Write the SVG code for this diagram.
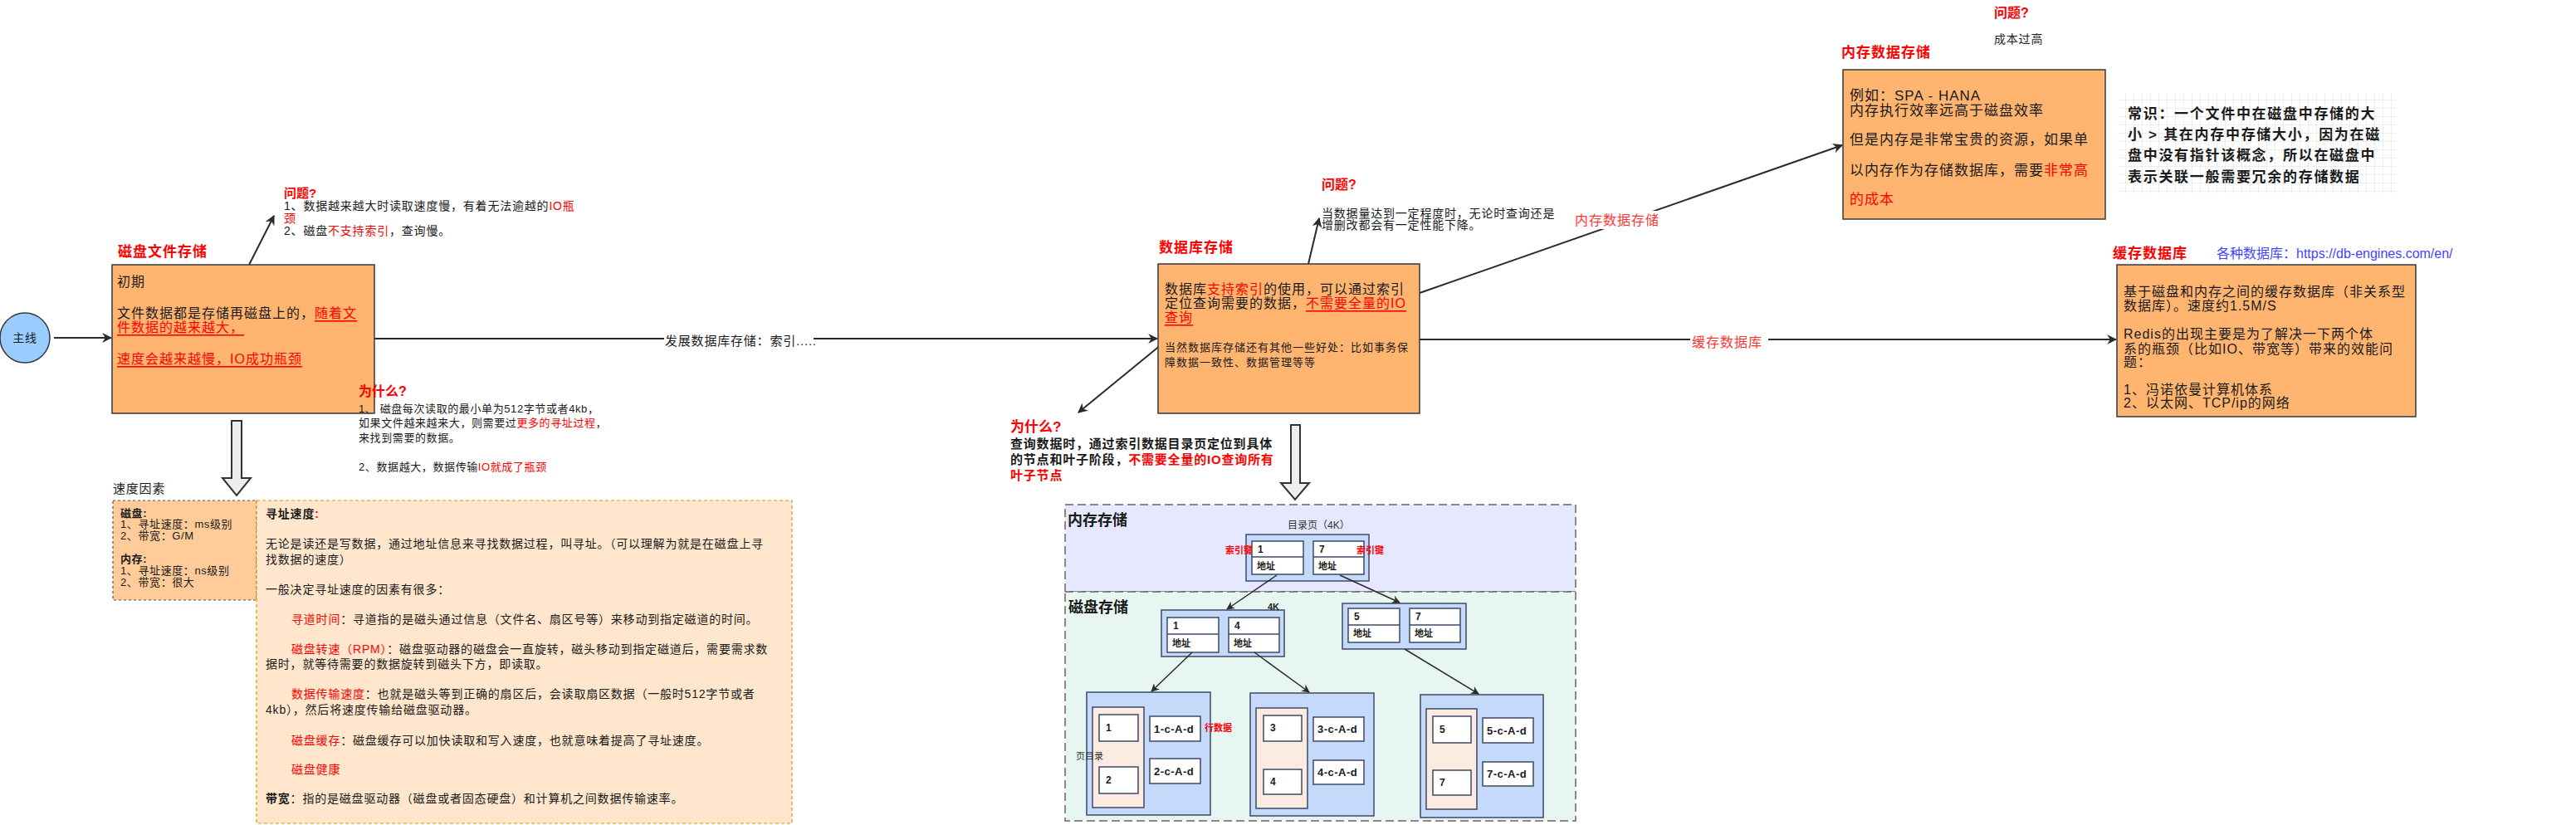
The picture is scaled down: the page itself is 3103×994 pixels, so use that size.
<svg xmlns="http://www.w3.org/2000/svg" width="3103" height="994" viewBox="0 0 3103 994">
<style>
text{font-family:"Liberation Sans","Noto Sans CJK SC",sans-serif;dominant-baseline:central;fill:#1a1a1a}
.s12{font-size:12px}
.s13{font-size:13px;letter-spacing:.6px}
.s14{font-size:14px;letter-spacing:.8px}
.s15{font-size:15px;letter-spacing:.8px}
.s16{font-size:16px;letter-spacing:1px}
.s17{font-size:17px;letter-spacing:1px}
.ttl{font-size:17px;letter-spacing:1px;font-weight:bold;fill:#ff0000}
.q{font-size:16px;font-weight:bold;fill:#ff0000}
.b{font-weight:bold}
.r{fill:#ff0000}
.lr{fill:#ff3333}
.u{text-decoration:underline}
.box{fill:#FFB570;stroke:#36393d;stroke-width:1.5}
.ln{stroke:#2b2b2b;stroke-width:2;fill:none}
.ln1{stroke:#2b2b2b;stroke-width:1.5;fill:none}
.hol{fill:#eeeeee;stroke:#333;stroke-width:2;stroke-linejoin:miter}
.blk{fill:#C5DAFB;stroke:#3d4a66;stroke-width:1.5}
.wb{fill:#ffffff;stroke:#3d4a66;stroke-width:1.5}
.pk{fill:#FCEBE0;stroke:#3d4a66;stroke-width:1.5}
.tk{font-size:12px;font-weight:bold}
.tk2{font-size:11px;font-weight:bold}
.tk3{font-size:13px;font-weight:bold;letter-spacing:.5px}
</style>
<defs>
<marker id="ah" viewBox="0 0 10 10" refX="9" refY="5" markerWidth="12" markerHeight="12" markerUnits="userSpaceOnUse" orient="auto">
<path d="M0,0 L10,5 L0,10 L3,5 z" fill="#2b2b2b"/>
</marker>
<marker id="ahs" viewBox="0 0 10 10" refX="9" refY="5" markerWidth="10" markerHeight="10" markerUnits="userSpaceOnUse" orient="auto">
<path d="M0,0 L10,5 L0,10 L3,5 z" fill="#2b2b2b"/>
</marker>
<pattern id="grid" width="10" height="10" patternUnits="userSpaceOnUse">
<rect width="10" height="10" fill="#ffffff"/>
<path d="M10,0 L0,0 L0,10" fill="none" stroke="#dddddd" stroke-width="1"/>
</pattern>
</defs>

<g id="connectors">
<line class="ln" x1="65" y1="407" x2="134" y2="407" marker-end="url(#ah)"/>
<line class="ln" x1="451" y1="408" x2="1394" y2="408" marker-end="url(#ah)"/>
<line class="ln" x1="1710" y1="409" x2="2549" y2="409" marker-end="url(#ah)"/>
<line class="ln" x1="1710" y1="353" x2="2219" y2="175" marker-end="url(#ah)"/>
<line class="ln" x1="300" y1="319" x2="330" y2="260" marker-end="url(#ah)"/>
<line class="ln" x1="375" y1="453" x2="416" y2="477" marker-end="url(#ah)"/>
<line class="ln" x1="1576" y1="318" x2="1589" y2="263" marker-end="url(#ah)"/>
<line class="ln" x1="1426" y1="393" x2="1299" y2="497" marker-end="url(#ah)"/>
<path class="hol" d="M279,507 L291,507 L291,576 L302,576 L285,597 L268,576 L279,576 Z"/>
<path class="hol" d="M1555,512 L1566,512 L1566,582 L1577,582 L1560,602 L1543,582 L1555,582 Z"/>
<rect x="800" y="399" width="180" height="22" fill="#ffffff"/>
<text class="s15" x="801" y="410">发展数据库存储：索引.....</text>
<rect x="2036" y="401" width="94" height="22" fill="#ffffff"/>
<text class="s16 lr" x="2038" y="412">缓存数据库</text>
<rect x="1895" y="254" width="112" height="22" fill="#ffffff"/>
<text class="s16 lr" x="1897" y="265">内存数据存储</text>
</g>

<g id="node-main">
<circle cx="30" cy="407" r="30" fill="#99CCFF" stroke="#36393d" stroke-width="1.5"/>
<text class="s14" x="30" y="407" text-anchor="middle">主线</text>
</g>

<g id="node-disk-file">
<text class="ttl" x="142" y="303">磁盘文件存储</text>
<rect class="box" x="135" y="319" width="316" height="179"/>
<text class="s16" x="141" y="339">初期</text>
<text class="s16" x="141" y="377">文件数据都是存储再磁盘上的，<tspan class="r u">随着文</tspan></text>
<text class="s16" x="141" y="394"><tspan class="r u">件数据的越来越大，</tspan></text>
<text class="s16" x="141" y="432"><tspan class="r u">速度会越来越慢，IO成功瓶颈</tspan></text>
</g>

<g id="node-problem1">
<text class="q" x="342" y="232" style="font-size:15px">问题?</text>
<text class="s14" x="342" y="248">1、数据越来越大时读取速度慢，有着无法逾越的<tspan class="r">IO瓶</tspan></text>
<text class="s14" x="342" y="263"><tspan class="r">颈</tspan></text>
<text class="s14" x="342" y="278">2、磁盘<tspan class="r">不支持索引</tspan>，查询慢。</text>
</g>

<g id="node-why1">
<text class="q" x="432" y="471">为什么?</text>
<text class="s13" x="432" y="492">1、 磁盘每次读取的最小单为512字节或者4kb，</text>
<text class="s13" x="432" y="509">如果文件越来越来大，则需要过<tspan class="r">更多的寻址过程</tspan>，</text>
<text class="s13" x="432" y="527">来找到需要的数据。</text>
<text class="s13" x="432" y="562">2、数据越大，数据传输<tspan class="r">IO就成了瓶颈</tspan></text>
</g>

<g id="node-speed">
<text class="s15" x="136" y="588">速度因素</text>
<rect x="136" y="603" width="173" height="120" fill="#FFCC99" stroke="#555" stroke-width="1.2" stroke-dasharray="3 3"/>
<text class="s13 b" x="145" y="618">磁盘:</text>
<text class="s13" x="145" y="631">1、寻址速度：ms级别</text>
<text class="s13" x="145" y="645">2、带宽：G/M</text>
<text class="s13 b" x="145" y="673">内存:</text>
<text class="s13" x="145" y="687">1、寻址速度：ns级别</text>
<text class="s13" x="145" y="701">2、带宽：很大</text>
</g>

<g id="node-seek">
<rect x="309" y="603" width="645" height="389" fill="#FFE6CC" stroke="#D79B00" stroke-width="1.2" stroke-dasharray="4 3"/>
<text class="s14 b" x="320" y="619">寻址速度<tspan class="r">:</tspan></text>
<text class="s14" x="320" y="655">无论是读还是写数据，通过地址信息来寻找数据过程，叫寻址。（可以理解为就是在磁盘上寻</text>
<text class="s14" x="320" y="674">找数据的速度）</text>
<text class="s14" x="320" y="710">一般决定寻址速度的因素有很多：</text>
<text class="s14" x="351" y="746"><tspan class="r">寻道时间</tspan>：寻道指的是磁头通过信息（文件名、扇区号等）来移动到指定磁道的时间。</text>
<text class="s14" x="351" y="782"><tspan class="r">磁盘转速（RPM）</tspan>：磁盘驱动器的磁盘会一直旋转，磁头移动到指定磁道后，需要需求数</text>
<text class="s14" x="320" y="800">据时，就等待需要的数据旋转到磁头下方，即读取。</text>
<text class="s14" x="351" y="836"><tspan class="r">数据传输速度</tspan>：也就是磁头等到正确的扇区后，会读取扇区数据（一般时512字节或者</text>
<text class="s14" x="320" y="855">4kb），然后将速度传输给磁盘驱动器。</text>
<text class="s14" x="351" y="892"><tspan class="r">磁盘缓存</tspan>：磁盘缓存可以加快读取和写入速度，也就意味着提高了寻址速度。</text>
<text class="s14 r" x="351" y="927">磁盘健康</text>
<text class="s14" x="320" y="962"><tspan class="b">带宽</tspan>：指的是磁盘驱动器（磁盘或者固态硬盘）和计算机之间数据传输速率。</text>
</g>

<g id="node-db">
<text class="ttl" x="1396" y="298">数据库存储</text>
<rect class="box" x="1395" y="318" width="315" height="180"/>
<text class="s16" x="1403" y="348">数据库<tspan class="r">支持索引</tspan>的使用，可以通过索引</text>
<text class="s16" x="1403" y="365">定位查询需要的数据，<tspan class="r u">不需要全量的IO</tspan></text>
<text class="s16" x="1403" y="382"><tspan class="r u">查询</tspan></text>
<text class="s13" x="1403" y="418" style="letter-spacing:1px">当然数据库存储还有其他一些好处：比如事务保</text>
<text class="s13" x="1403" y="436" style="letter-spacing:1px">障数据一致性、数据管理等等</text>
</g>

<g id="node-problem2">
<text class="q" x="1592" y="222">问题?</text>
<text class="s14" x="1592" y="257">当数据量达到一定程度时，无论时查询还是</text>
<text class="s14" x="1592" y="271">增删改都会有一定性能下降。</text>
</g>

<g id="node-why2">
<text class="q" x="1217" y="514" style="font-size:17px">为什么?</text>
<text class="s15 b" x="1217" y="534">查询数据时，通过索引数据目录页定位到具体</text>
<text class="s15 b" x="1217" y="553">的节点和叶子阶段，<tspan class="r">不需要全量的IO查询所有</tspan></text>
<text class="s15 b r" x="1217" y="572">叶子节点</text>
</g>

<g id="node-memory-db">
<text class="ttl" x="2218" y="63">内存数据存储</text>
<rect class="box" x="2220" y="84" width="316" height="180"/>
<text class="s17" x="2228" y="115">例如：SPA - HANA</text>
<text class="s17" x="2228" y="133">内存执行效率远高于磁盘效率</text>
<text class="s17" x="2228" y="168">但是内存是非常宝贵的资源，如果单</text>
<text class="s17" x="2228" y="205">以内存作为存储数据库，需要<tspan class="r">非常高</tspan></text>
<text class="s17 r" x="2228" y="240">的成本</text>
</g>

<g id="node-problem3">
<text class="q" x="2402" y="15">问题?</text>
<text class="s14" x="2402" y="47">成本过高</text>
</g>

<g id="node-common">
<rect x="2551" y="113" width="336" height="120" fill="url(#grid)"/>
<text class="b" x="2563" y="137" style="font-size:17px;letter-spacing:1.7px">常识：一个文件中在磁盘中存储的大</text>
<text class="b" x="2563" y="162" style="font-size:17px;letter-spacing:1.7px">小 &gt; 其在内存中存储大小，因为在磁</text>
<text class="b" x="2563" y="187" style="font-size:17px;letter-spacing:1.7px">盘中没有指针该概念，所以在磁盘中</text>
<text class="b" x="2563" y="213" style="font-size:17px;letter-spacing:1.7px">表示关联一般需要冗余的存储数据</text>
</g>

<g id="node-cache-db">
<text class="ttl" x="2545" y="305">缓存数据库</text>
<text x="2670" y="305" style="font-size:16px;fill:#4545ff">各种数据库：https://db-engines.com/en/</text>
<rect class="box" x="2550" y="319" width="360" height="183"/>
<text class="s16" x="2558" y="351">基于磁盘和内存之间的缓存数据库（非关系型</text>
<text class="s16" x="2558" y="368">数据库）。速度约1.5M/S</text>
<text class="s16" x="2558" y="402">Redis的出现主要是为了解决一下两个体</text>
<text class="s16" x="2558" y="420">系的瓶颈（比如IO、带宽等）带来的效能问</text>
<text class="s16" x="2558" y="436">题：</text>
<text class="s16" x="2558" y="469">1、冯诺依曼计算机体系</text>
<text class="s16" x="2558" y="485">2、以太网、TCP/ip的网络</text>
</g>

<g id="node-btree">
<rect x="1283" y="608" width="615" height="105" fill="#E6E8FF" stroke="#666" stroke-width="1.5" stroke-dasharray="10 5"/>
<rect x="1283" y="713" width="615" height="276" fill="#E8F6F2" stroke="#666" stroke-width="1.5" stroke-dasharray="10 5"/>
<text class="b" x="1286" y="627" style="font-size:18px">内存存储</text>
<text class="b" x="1287" y="732" style="font-size:18px">磁盘存储</text>
<text class="s12" x="1551" y="633" style="fill:#333">目录页（4K）</text>

<rect class="blk" x="1501" y="644" width="148" height="56"/>
<rect class="wb" x="1508" y="652" width="62" height="40"/>
<line class="wb" x1="1508" y1="671" x2="1570" y2="671"/>
<rect class="wb" x="1582" y="652" width="61" height="40"/>
<line class="wb" x1="1582" y1="671" x2="1643" y2="671"/>
<text class="tk" x="1515" y="662">1</text>
<text class="tk2" x="1514" y="682">地址</text>
<text class="tk" x="1589" y="662">7</text>
<text class="tk2" x="1588" y="682">地址</text>
<text class="tk2 r" x="1476" y="663">索引键</text>
<text class="tk2 r" x="1634" y="663">索引键</text>

<rect class="blk" x="1399" y="735" width="148" height="56"/>
<rect class="wb" x="1406" y="744" width="62" height="42"/>
<line class="wb" x1="1406" y1="764" x2="1468" y2="764"/>
<rect class="wb" x="1480" y="744" width="61" height="42"/>
<line class="wb" x1="1480" y1="764" x2="1541" y2="764"/>
<text class="tk" x="1413" y="754">1</text>
<text class="tk2" x="1412" y="775">地址</text>
<text class="tk" x="1487" y="754">4</text>
<text class="tk2" x="1486" y="775">地址</text>
<text class="tk2" x="1527" y="731">4K</text>

<rect class="blk" x="1617" y="727" width="149" height="55"/>
<rect class="wb" x="1624" y="733" width="62" height="41"/>
<line class="wb" x1="1624" y1="753" x2="1686" y2="753"/>
<rect class="wb" x="1698" y="733" width="61" height="41"/>
<line class="wb" x1="1698" y1="753" x2="1759" y2="753"/>
<text class="tk" x="1631" y="743">5</text>
<text class="tk2" x="1630" y="763">地址</text>
<text class="tk" x="1705" y="743">7</text>
<text class="tk2" x="1704" y="763">地址</text>

<rect class="blk" x="1309" y="834" width="149" height="148"/>
<rect class="pk" x="1316" y="852" width="62" height="121"/>
<rect class="wb" x="1324" y="861" width="47" height="32"/>
<rect class="wb" x="1324" y="924" width="47" height="32"/>
<rect class="wb" x="1385" y="863" width="61" height="30"/>
<rect class="wb" x="1385" y="914" width="61" height="30"/>
<text class="tk" x="1332" y="877">1</text>
<text class="tk" x="1332" y="940">2</text>
<text class="tk3" x="1390" y="878">1-c-A-d</text>
<text class="tk3" x="1390" y="929">2-c-A-d</text>
<text class="tk2 r" x="1451" y="877">行数据</text>
<text x="1296" y="911" style="font-size:11px;fill:#333">页目录</text>

<rect class="blk" x="1506" y="835" width="149" height="148"/>
<rect class="pk" x="1513" y="853" width="62" height="121"/>
<rect class="wb" x="1522" y="862" width="46" height="31"/>
<rect class="wb" x="1522" y="927" width="46" height="30"/>
<rect class="wb" x="1582" y="864" width="61" height="29"/>
<rect class="wb" x="1582" y="916" width="61" height="29"/>
<text class="tk" x="1530" y="877">3</text>
<text class="tk" x="1530" y="942">4</text>
<text class="tk3" x="1587" y="878">3-c-A-d</text>
<text class="tk3" x="1587" y="930">4-c-A-d</text>

<rect class="blk" x="1711" y="837" width="148" height="148"/>
<rect class="pk" x="1718" y="854" width="61" height="121"/>
<rect class="wb" x="1726" y="863" width="46" height="32"/>
<rect class="wb" x="1726" y="928" width="46" height="30"/>
<rect class="wb" x="1786" y="865" width="61" height="30"/>
<rect class="wb" x="1786" y="918" width="61" height="29"/>
<text class="tk" x="1734" y="879">5</text>
<text class="tk" x="1734" y="943">7</text>
<text class="tk3" x="1791" y="880">5-c-A-d</text>
<text class="tk3" x="1791" y="932">7-c-A-d</text>

<g id="tree-connectors">
<line class="ln1" x1="1538" y1="693" x2="1478" y2="734" marker-end="url(#ahs)"/>
<line class="ln1" x1="1614" y1="693" x2="1686" y2="726" marker-end="url(#ahs)"/>
<line class="ln1" x1="1436" y1="786" x2="1387" y2="833" marker-end="url(#ahs)"/>
<line class="ln1" x1="1511" y1="786" x2="1577" y2="834" marker-end="url(#ahs)"/>
<line class="ln1" x1="1692" y1="782" x2="1781" y2="836" marker-end="url(#ahs)"/>
</g>
</g>
</svg>
